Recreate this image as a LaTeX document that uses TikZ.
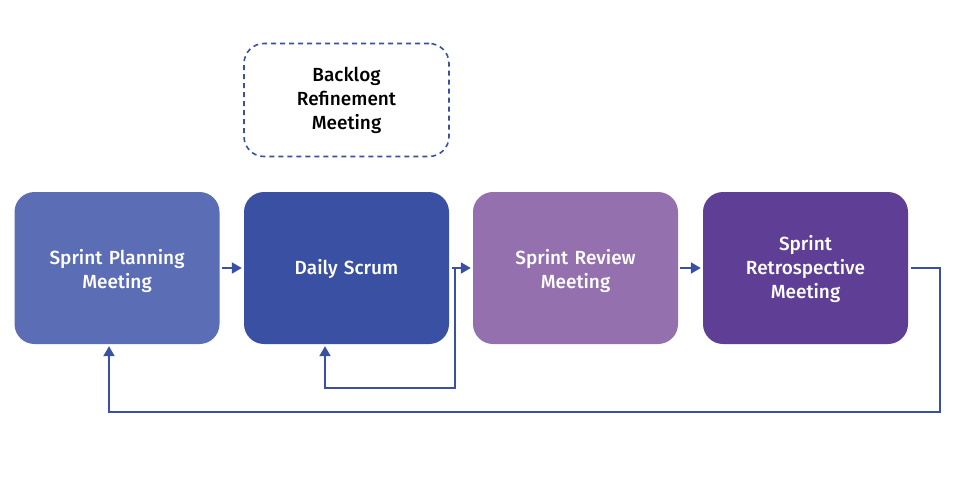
\documentclass[tikz,border=0pt]{standalone}
\usepackage{fontspec}
\setmainfont{Fira Sans}[BoldFont={* Medium}]
\usetikzlibrary{arrows.meta}
\definecolor{cA}{HTML}{5B6DB5}
\definecolor{cB}{HTML}{3A51A3}
\definecolor{cC}{HTML}{9470AE}
\definecolor{cD}{HTML}{5E3F95}
\definecolor{lineC}{HTML}{3A51A3}
\tikzset{
  stepbox/.style={rounded corners=20pt, minimum width=205pt, minimum height=152pt, inner sep=0pt},
  steptext/.style={inner sep=0pt, text width=190pt, align=center,
    font=\fontsize{19}{24}\selectfont\bfseries, text=white, yshift=-3pt},
  flow/.style={draw=lineC, line width=2pt, -{Triangle[length=10pt,width=11pt]}},
}
\begin{document}
\begin{tikzpicture}[x=1pt,y=-1pt]
\useasboundingbox (0,0) rectangle (973,477);
\fill[white] (0,0) rectangle (973,477);
\node[stepbox, fill=cA] (plan) at (117,268) {};
\node[stepbox, fill=cB] (daily) at (346.5,268) {};
\node[stepbox, fill=cC] (review) at (575.5,268) {};
\node[stepbox, fill=cD] (retro) at (805.5,268) {};
\node[stepbox, draw=lineC, dashed, line width=1.6pt, dash pattern=on 5pt off 4pt, minimum height=113pt] (backlog) at (346.5,100) {};
\node[steptext] (planT) at (plan.center) {Sprint Planning\\Meeting};
\node[steptext, yshift=2pt] (dailyT) at (daily.center) {Daily Scrum};
\node[steptext] (reviewT) at (review.center) {Sprint Review\\Meeting};
\node[steptext, yshift=2pt] (retroT) at (retro.center) {Sprint\\Retrospective\\Meeting};
\node[steptext, text=black, yshift=3pt] (backlogT) at (backlog.center) {Backlog\\Refinement\\Meeting};
\coordinate (j) at (455,268);
\coordinate (loopA) at (455,388);
\coordinate (loopB) at (940,412);
\draw[flow] ([xshift=2pt]plan.east) -- ([xshift=-2pt]daily.west);
\draw[flow] ([xshift=3pt]daily.east) -- ([xshift=-2pt]review.west);
\draw[flow] ([xshift=2pt]review.east) -- ([xshift=-2pt]retro.west);
\draw[flow] (j) -- (loopA) -| ([yshift=-2pt]daily.south -| 325,0);
\draw[flow] ([xshift=3pt]retro.east) -| (loopB) -| ([yshift=-2pt]plan.south -| 109,0);
\end{tikzpicture}
\end{document}
